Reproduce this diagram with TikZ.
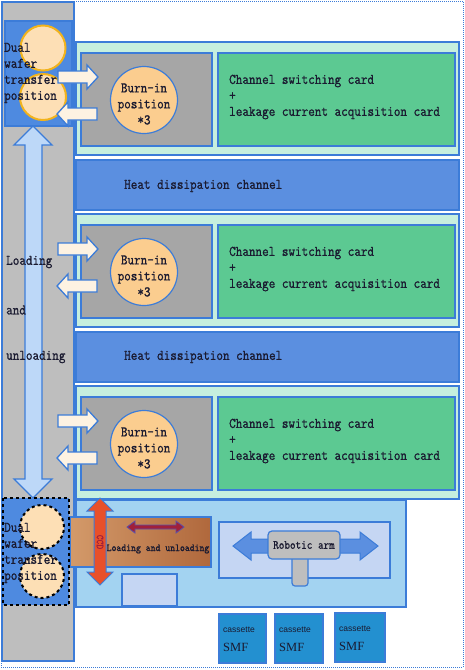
\documentclass[tikz,border=0pt]{standalone}
\usepackage{fontspec}
\newfontfamily\casfont{Liberation Sans}
\newfontfamily\smffont{Liberation Serif}
\newfontfamily\simmono[FakeStretch=0.87,FakeBold=1]{Latin Modern Mono}
\definecolor{bord}{HTML}{3C7CD8}
\definecolor{colgray}{HTML}{BEBEBE}
\definecolor{boxgray}{HTML}{A6A6A6}
\definecolor{mint}{HTML}{C6EFDE}
\definecolor{cardgreen}{HTML}{5CC992}
\definecolor{heatblue}{HTML}{5B8FE0}
\definecolor{dualblue}{HTML}{4E8AE0}
\definecolor{peach}{HTML}{FDDFB5}
\definecolor{gold}{HTML}{F2B31C}
\definecolor{burnorange}{HTML}{FBCD8F}
\definecolor{cream}{HTML}{FDF2E2}
\definecolor{vlight}{HTML}{BDD8F8}
\definecolor{panelblue}{HTML}{A3D3F1}
\definecolor{lavblue}{HTML}{C5D6F3}
\definecolor{cassblue}{HTML}{2390D0}
\definecolor{ccdred}{HTML}{E8502A}
\definecolor{darkred}{HTML}{A0203A}
\definecolor{txt}{HTML}{1A1A30}
\tikzset{
  panel/.style={draw=bord, line width=1.2pt},
  warrow/.style={draw=bord, fill=cream, line width=1.3pt},
  mono/.style={font=\fontsize{14.7}{16}\selectfont\simmono, text=txt, inner sep=0pt},
}
\newcommand{\myRArrow}[3]{\draw[warrow] (#1,#3-6) -- (#2-11,#3-6) -- (#2-11,#3-12) -- (#2,#3) -- (#2-11,#3+12) -- (#2-11,#3+6) -- (#1,#3+6) -- cycle;}
\newcommand{\myLArrow}[3]{\draw[warrow] (#2,#3-6) -- (#1+11,#3-6) -- (#1+11,#3-12) -- (#1,#3) -- (#1+11,#3+12) -- (#1+11,#3+6) -- (#2,#3+6) -- cycle;}
\newcommand{\mySection}[2]{%
  \draw[panel, fill=mint] (76,#1) rectangle (459,#1+113);
  \draw[panel, fill=boxgray] (81,#1+11) rectangle (212,#1+104);
  \draw[panel, fill=cardgreen] (218,#1+11) rectangle (455,#1+104);
  \node[circle, draw=bord, fill=burnorange, line width=1.2pt, minimum size=67pt, inner sep=0pt] (burn#2) at (144,#1+58) {};
  \node[mono, align=center] (burntext#2) at (144,#1+62) {Burn-in\\position\\*3};
  \node[mono, align=left, anchor=west] (card#2) at (229,#1+55) {Channel switching card\\+\\leakage current acquisition card};
  \myRArrow{58}{98}{#1+35}
  \myLArrow{57}{97}{#1+72}
}
\begin{document}
\begin{tikzpicture}[x=1pt,y=-1pt]
\useasboundingbox (0,0) rectangle (465,670);
% outer dotted border
\draw[bord, densely dotted, line width=1pt] (1,1) rectangle (463,667);
% gray column
\draw[panel, fill=colgray] (2,2) rectangle (74,661);
% top dual wafer box
\draw[panel, fill=dualblue] (5,21) rectangle (72,126);
\node[circle, draw=gold, fill=peach, line width=2pt, minimum size=45pt, inner sep=0pt] (wt1) at (43,48) {};
\node[circle, draw=gold, fill=peach, line width=2pt, minimum size=46pt, inner sep=0pt] (wt2) at (43,97) {};
\node[mono, align=left, anchor=west] (dualtop) at (4,73) {Dual\\wafer\\transfer\\position};
% sections
\mySection{42}{a}
\draw[panel, fill=heatblue] (76,160) rectangle (459,210);
\node[mono, anchor=west] (heat1) at (124,186) {Heat dissipation channel};
\mySection{214}{b}
\draw[panel, fill=heatblue] (76,332) rectangle (459,382);
\node[mono, anchor=west] (heat2) at (124,357) {Heat dissipation channel};
\mySection{386}{c}
% big vertical double arrow
\draw[draw=bord, fill=vlight, line width=1.3pt] (33,126) -- (52,145) -- (42,145) -- (42,479) -- (52,479) -- (33,498) -- (14,479) -- (25,479) -- (25,145) -- (14,145) -- cycle;
\node[mono, anchor=west] (lo1) at (6,262) {Loading};
\node[mono, anchor=west] (lo2) at (6,310) {and};
\node[mono, anchor=west] (lo3) at (6,357) {unloading};
% bottom panel
\draw[panel, fill=panelblue] (76,500) rectangle (406,607);
% brown box
\draw[draw=bord, line width=1.2pt, left color={rgb,255:red,211;green,154;blue,106}, right color={rgb,255:red,176;green,104;blue,60}] (70,517) rectangle (211,567);
\node[font=\fontsize{10.7}{12}\selectfont\simmono, text=txt, inner sep=0pt] (lul) at (158,549) {Loading and unloading};
\draw[draw={rgb,255:red,90;green,80;blue,170}, fill=darkred, line width=0.8pt] (127,527) -- (135,521) -- (135,525) -- (176,525) -- (176,521) -- (184,527) -- (176,533) -- (176,529) -- (135,529) -- (135,533) -- cycle;
% CCD arrow
\draw[draw=bord, fill=ccdred, line width=1pt] (100,498) -- (113,511) -- (106,511) -- (106,572) -- (113,572) -- (100,585) -- (87,572) -- (94,572) -- (94,511) -- (87,511) -- cycle;
\node[font=\fontsize{10.5}{11}\selectfont\simmono, text=darkred, rotate=-90, inner sep=0pt] (ccd) at (100,542) {CCD};
% small box
\draw[panel, fill=lavblue] (122,574) rectangle (177,606);
% robotic arm
\draw[panel, fill=lavblue] (219,522) rectangle (390,578);
\draw[draw=bord, fill=heatblue, line width=1pt] (233,546) -- (251,532) -- (251,539) -- (360,539) -- (360,532) -- (378,546) -- (360,560) -- (360,553) -- (251,553) -- (251,560) -- cycle;
\draw[draw=bord, fill=colgray, line width=1.2pt, rounded corners=3pt] (292,555) rectangle (308,586);
\node[draw=bord, fill=colgray, line width=1.2pt, rounded corners=4pt, minimum width=72pt, minimum height=28pt, inner sep=0pt, font=\fontsize{12.5}{13}\selectfont\simmono, text=txt] (arm) at (304,545) {Robotic arm};
% bottom dual wafer box
\draw[fill=dualblue, draw=black, dashed, line width=1.3pt] (3,498) rectangle (69,605);
\node[circle, draw=black, dashed, fill=peach, line width=2pt, minimum size=44pt, inner sep=0pt] (wb1) at (42,527) {};
\node[circle, draw=black, dashed, fill=peach, line width=2pt, minimum size=44pt, inner sep=0pt] (wb2) at (42,576) {};
\node[mono, align=left, anchor=west] (dualbot) at (4,553) {Dual\\wafer\\transfer\\position};
% cassettes
\foreach \n/\xa/\xb/\ya in {1/219/266/614, 2/275/323/614, 3/335/385/613}{
  \draw[draw=bord, fill=cassblue, line width=1.2pt] (\xa,\ya) rectangle (\xb,\ya+49);
  \node[font=\fontsize{8.5}{10}\selectfont\casfont, text=txt, anchor=west, inner sep=0pt] (cas\n) at (\xa+4,\ya+16) {cassette};
  \node[font=\fontsize{12.5}{13}\selectfont\smffont, text=txt, anchor=west, inner sep=0pt] (smf\n) at (\xa+4,\ya+33) {SMF};
}
\end{tikzpicture}
\end{document}
